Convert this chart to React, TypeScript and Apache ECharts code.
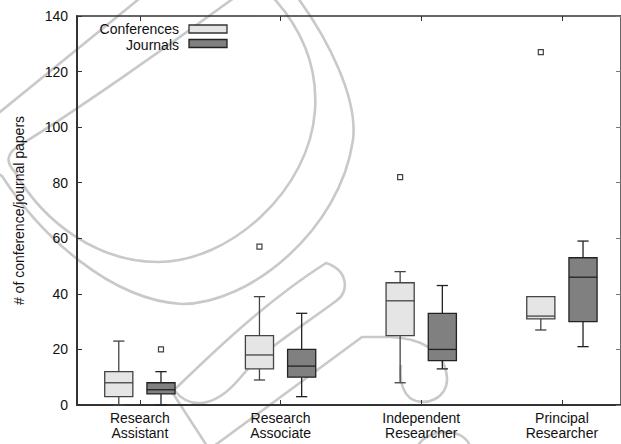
import React, { useEffect, useRef } from "react";
import * as echarts from "echarts";

const categories = ["Research\nAssistant", "Research\nAssociate", "Independent\nResearcher", "Principal\nResearcher"];
// each box: [min, Q1, median, Q3, max]
const conferenceBoxes = [
  [0, 3, 8, 12, 23],
  [9, 13, 18, 25, 39],
  [8, 25, 37.5, 44, 48],
  [27, 31, 32, 39, 39],
];
const journalBoxes = [
  [0, 4, 5.5, 8, 12],
  [3, 10, 14, 20, 33],
  [13, 16, 20, 33, 43],
  [21, 30, 46, 53, 59],
];
// outliers: [category index, value]
const conferenceOutliers = [
  [1, 57],
  [2, 82],
  [3, 127],
];
const journalOutliers = [[0, 20]];
const seriesNames = ["Conferences", "Journals"];

const FONT = "'Liberation Sans', Arial, Helvetica, sans-serif";
const CONF_FILL = "#e5e5e5";
const JOUR_FILL = "#808080";
const EDGE = "#333333";
const OFFSET = 0.15;
const BOX_HALF = 0.1;
const CAP_HALF = 0.04;
const catValues = categories.map((_, i) => i + 1);

const WATERMARK =
  "M 150,-10 L 0,112 Q -45,148 2,176 C 40,235 110,300 182,304 C 250,304 340,230 353,140 C 358,100 330,40 292,-10 " +
  "M 242,-8 C 170,45 70,115 20,145 Q 0,157 15,172 C 45,225 100,262 158,262 C 230,262 310,190 315,110 C 318,65 300,25 268,-8 " +
  "M 207,446 L 172,392 C 200,365 260,305 326,263 C 348,270 350,292 336,301 C 300,328 262,350 240,378 C 215,408 190,410 174,390 " +
  "M 214,446 L 362,337 L 390,337 C 420,338 445,350 447,378 C 448,398 425,408 410,398 C 400,390 400,375 401,365 " +
  "M 418,446 C 425,430 462,425 470,446";

let registered = false;

function makeRender(fill: string, edge: string) {
  return (params: any, api: any) => {
    const x = api.value(0);
    const lo = api.value(1);
    const q1 = api.value(2);
    const med = api.value(3);
    const q3 = api.value(4);
    const hi = api.value(5);
    const px = (v: number) => api.coord([v, 0])[0];
    const py = (v: number) => api.coord([x, v])[1];
    const left = px(x - BOX_HALF);
    const right = px(x + BOX_HALF);
    const cx = px(x);
    const cl = px(x - CAP_HALF);
    const cr = px(x + CAP_HALF);
    const ls = { stroke: edge, lineWidth: 1.3, fill: null };
    return {
      type: "group",
      children: [
        { type: "line", shape: { x1: cx, y1: py(hi), x2: cx, y2: py(q3) }, style: ls },
        { type: "line", shape: { x1: cx, y1: py(q1), x2: cx, y2: py(lo) }, style: ls },
        { type: "line", shape: { x1: cl, y1: py(hi), x2: cr, y2: py(hi) }, style: ls },
        { type: "line", shape: { x1: cl, y1: py(lo), x2: cr, y2: py(lo) }, style: ls },
        {
          type: "rect",
          shape: { x: left, y: py(q3), width: right - left, height: py(q1) - py(q3) },
          style: { fill, stroke: edge, lineWidth: 1.3 },
        },
        { type: "line", shape: { x1: left, y1: py(med), x2: right, y2: py(med) }, style: ls },
      ],
    };
  };
}

export default function App() {
  const ref = useRef<HTMLDivElement>(null);
  useEffect(() => {
    if (!ref.current) return;
    if (!registered) {
      echarts.graphic.registerShape("logo", echarts.graphic.extendPath(WATERMARK, {}));
      registered = true;
    }
    const chart = echarts.init(ref.current, null, { renderer: "svg" });
    const xCommon = {
      type: "value",
      min: 0.553,
      max: 4.42,
      splitLine: { show: false },
    };
    const yCommon = {
      type: "value",
      min: 0,
      max: 140,
      interval: 20,
      splitLine: { show: false },
    };
    chart.setOption({
      animation: false,
      backgroundColor: "#ffffff",
      textStyle: { fontFamily: FONT },
      grid: { left: 77, right: -1, top: 16, bottom: 39, containLabel: false },
      xAxis: [
        {
          ...xCommon,
          position: "bottom",
          axisLine: { show: true, onZero: false, lineStyle: { color: EDGE, width: 2 } },
          axisTick: { show: true, inside: true, length: 5, customValues: catValues, lineStyle: { color: EDGE, width: 1 } },
          axisLabel: {
            show: true,
            customValues: catValues,
            formatter: (v: number) => categories[Math.round(v) - 1] || "",
            fontFamily: FONT,
            fontSize: 14,
            lineHeight: 15,
            color: "#111",
            margin: 5,
          },
        },
        {
          ...xCommon,
          position: "top",
          axisLine: { show: true, onZero: false, lineStyle: { color: EDGE, width: 1.5 } },
          axisTick: { show: true, inside: true, length: 5, customValues: catValues, lineStyle: { color: EDGE, width: 1 } },
          axisLabel: { show: false },
        },
      ],
      yAxis: [
        {
          ...yCommon,
          position: "left",
          name: "# of conference/journal papers",
          nameLocation: "middle",
          nameGap: 51,
          nameTextStyle: { fontFamily: FONT, fontSize: 14, color: "#111" },
          axisLine: { show: true, onZero: false, lineStyle: { color: EDGE, width: 2 } },
          axisTick: { show: true, inside: true, length: 5, lineStyle: { color: EDGE, width: 1 } },
          axisLabel: { fontFamily: FONT, fontSize: 14, color: "#111", margin: 9 },
        },
        {
          ...yCommon,
          position: "right",
          axisLine: { show: true, onZero: false, lineStyle: { color: EDGE, width: 1.5 } },
          axisTick: { show: true, inside: true, length: 5, lineStyle: { color: "#777", width: 1 } },
          axisLabel: { show: false },
        },
      ],
      graphic: {
        elements: [
          {
            type: "logo",
            x: 0,
            y: 0,
            z: -10,
            silent: true,
            style: { fill: "none", stroke: "#c9c9c9", lineWidth: 2.6 },
          },
          {
            type: "text",
            x: 179,
            y: 28.5,
            z: 10,
            style: { text: seriesNames[0], font: `14px ${FONT}`, fill: "#111", align: "right", verticalAlign: "middle" },
          },
          {
            type: "rect",
            z: 10,
            shape: { x: 189, y: 25, width: 38, height: 8 },
            style: { fill: CONF_FILL, stroke: EDGE, lineWidth: 1.3 },
          },
          {
            type: "text",
            x: 179,
            y: 44.5,
            z: 10,
            style: { text: seriesNames[1], font: `14px ${FONT}`, fill: "#111", align: "right", verticalAlign: "middle" },
          },
          {
            type: "rect",
            z: 10,
            shape: { x: 189, y: 39.5, width: 38, height: 8 },
            style: { fill: JOUR_FILL, stroke: "#222", lineWidth: 1.3 },
          },
        ],
      },
      series: [
        {
          name: seriesNames[0],
          type: "custom",
          renderItem: makeRender(CONF_FILL, "#444"),
          encode: { x: 0, y: [1, 2, 3, 4, 5] },
          data: conferenceBoxes.map((b, i) => [i + 1 - OFFSET, ...b]),
          z: 3,
        },
        {
          name: seriesNames[1],
          type: "custom",
          renderItem: makeRender(JOUR_FILL, "#222"),
          encode: { x: 0, y: [1, 2, 3, 4, 5] },
          data: journalBoxes.map((b, i) => [i + 1 + OFFSET, ...b]),
          z: 3,
        },
        {
          name: seriesNames[0] + " outliers",
          type: "scatter",
          symbol: "rect",
          symbolSize: 5,
          itemStyle: { color: "#fff", borderColor: "#111", borderWidth: 1.2 },
          data: conferenceOutliers.map(([i, v]) => [i + 1 - OFFSET, v]),
          z: 4,
        },
        {
          name: seriesNames[1] + " outliers",
          type: "scatter",
          symbol: "rect",
          symbolSize: 5,
          itemStyle: { color: "#fff", borderColor: "#111", borderWidth: 1.2 },
          data: journalOutliers.map(([i, v]) => [i + 1 + OFFSET, v]),
          z: 4,
        },
      ],
    });
    return () => chart.dispose();
  }, []);
  return (
    <div
      ref={ref}
      style={{ position: "fixed", left: 0, top: 0, width: 621, height: 444, background: "#fff" }}
    />
  );
}
